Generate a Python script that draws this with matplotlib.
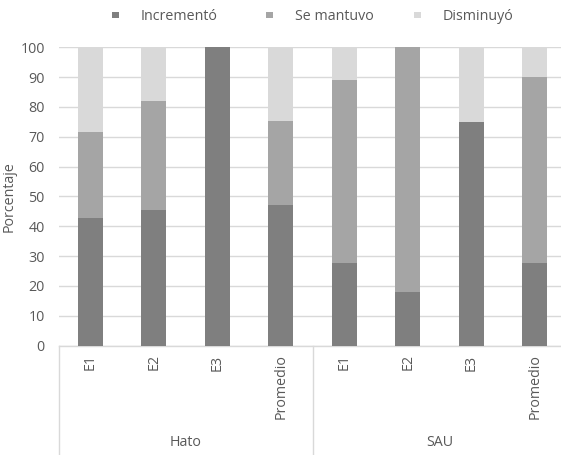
import matplotlib
matplotlib.use("Agg")
import matplotlib.pyplot as plt
from matplotlib.lines import Line2D
from matplotlib.patches import Rectangle
import numpy as np

plt.rcParams['font.family'] = ['Open Sans', 'DejaVu Sans']

groups = ["Hato", "SAU"]
categories = ["E1", "E2", "E3", "Promedio"]
series_names = ["Incrementó", "Se mantuvo", "Disminuyó"]
incremento = [42.9, 45.5, 100.0, 47.2, 27.8, 17.8, 75.0, 27.5]
se_mantuvo = [28.6, 36.4, 0.0, 28.1, 61.1, 82.2, 0.0, 62.5]
disminuyo = [28.5, 18.1, 0.0, 24.7, 11.1, 0.0, 25.0, 10.0]
y_ticks = [0, 10, 20, 30, 40, 50, 60, 70, 80, 90, 100]

colors = ["#7f7f7f", "#a5a5a5", "#d9d9d9"]
text_color = "#595959"
grid_color = "#d9d9d9"
fs = 10.3

W, H = 561, 455
fig = plt.figure(figsize=(W / 100, H / 100), dpi=100)

left_px, right_px = 58.5, 566.5
top_px, bottom_px = 47.3, 345.5
ax = fig.add_axes([left_px / W, 1 - bottom_px / H,
                   (right_px - left_px) / W, (bottom_px - top_px) / H])

n = len(incremento)
x = np.arange(n)
bottom = np.zeros(n)
for vals, col, name in zip([incremento, se_mantuvo, disminuyo], colors, series_names):
    ax.bar(x, vals, width=0.4, bottom=bottom, color=col, label=name, zorder=3)
    bottom += np.array(vals)

ax.set_xlim(-0.5, n - 0.5)
ax.set_ylim(0, 100)
ax.set_yticks(y_ticks)
ax.set_yticklabels([str(t) for t in y_ticks], fontsize=fs, color=text_color)
ax.tick_params(axis='y', length=0, pad=10)
ax.set_xticks([])
ax.yaxis.grid(True, color=grid_color, linewidth=1.0, zorder=0)
for s in ["top", "right", "left"]:
    ax.spines[s].set_visible(False)
ax.spines["bottom"].set_color(grid_color)
ax.spines["bottom"].set_linewidth(1.0)

ax.set_ylabel("Porcentaje", fontsize=fs, color=text_color)
ax.yaxis.set_label_coords((16.5 - left_px) / (right_px - left_px), 0.5)

# Two-level category axis below the plot
trans = ax.get_xaxis_transform()
for i in range(n):
    ax.text(x[i], -0.03, categories[i % len(categories)], rotation=90,
            ha='center', va='top', fontsize=fs, color=text_color,
            transform=trans, clip_on=False)
per_group = len(categories)
group_y = -(442.7 - bottom_px) / (bottom_px - top_px)
for g, name in enumerate(groups):
    center = g * per_group + (per_group - 1) / 2
    ax.text(center, group_y, name, ha='center', va='center', fontsize=fs,
            color=text_color, transform=trans, clip_on=False)
for b in range(len(groups) + 1):
    xb = b * per_group - 0.5
    ax.add_line(Line2D([xb, xb], [0, -0.4], transform=trans, color=grid_color,
                       linewidth=1.0, clip_on=False))

# Legend row across the top (marker square + label per series)
legend_x = [112, 266, 414]
marker_w, marker_h = 7, 6
marker_cy = 14.8
text_baseline = 20.5
for lx, col, name in zip(legend_x, colors, series_names):
    fig.patches.append(Rectangle((lx / W, 1 - (marker_cy + marker_h / 2) / H),
                                 marker_w / W, marker_h / H,
                                 transform=fig.transFigure, facecolor=col,
                                 edgecolor='none'))
    fig.text((lx + 29) / W, 1 - text_baseline / H, name,
             ha='left', va='baseline', fontsize=fs, color=text_color)

fig.savefig("out.png", dpi=100)
